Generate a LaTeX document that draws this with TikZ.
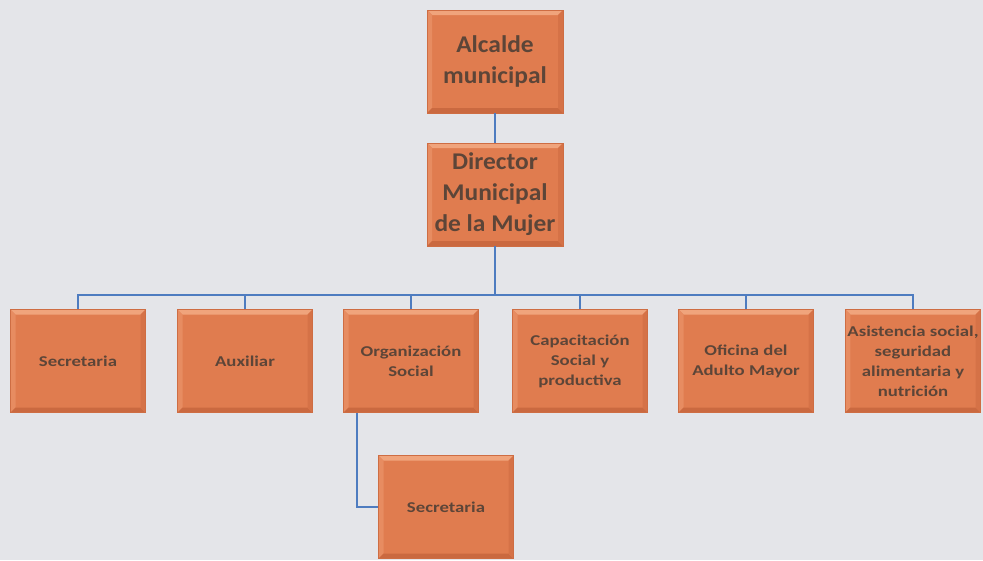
\documentclass[tikz,border=0pt]{standalone}
\usepackage{fontspec}
\setmainfont{Carlito}
\newfontfamily\topfont[FakeStretch=1.06]{Carlito}
\newfontfamily\childfont[FakeStretch=1.25]{Carlito}
\definecolor{bgc}{HTML}{E4E5E9}
\definecolor{orng}{HTML}{E07C4F}
\definecolor{orlt}{HTML}{F0A47C}
\definecolor{ordk}{HTML}{CA6940}
\definecolor{txtc}{HTML}{5C4538}
\definecolor{linec}{HTML}{4E7CC0}
\tikzset{
  orgbox/.style={fill=orng, draw=ordk!80!orng, line width=0.5pt, inner sep=2pt, align=center,
    text=txtc,
    path picture={
      \fill[orlt] (path picture bounding box.north west) -- (path picture bounding box.north east)
        -- ([shift={(-5,5)}]path picture bounding box.north east) -- ([shift={(5,5)}]path picture bounding box.north west) -- cycle;
      \fill[orlt!40!orng] (path picture bounding box.north west) -- (path picture bounding box.south west)
        -- ([shift={(5,-5)}]path picture bounding box.south west) -- ([shift={(5,5)}]path picture bounding box.north west) -- cycle;
      \fill[ordk] (path picture bounding box.south west) -- (path picture bounding box.south east)
        -- ([shift={(-5,-5)}]path picture bounding box.south east) -- ([shift={(5,-5)}]path picture bounding box.south west) -- cycle;
      \fill[ordk!50!orng] (path picture bounding box.north east) -- (path picture bounding box.south east)
        -- ([shift={(-5,-5)}]path picture bounding box.south east) -- ([shift={(-5,5)}]path picture bounding box.north east) -- cycle;
    }},
  topbox/.style={orgbox, minimum width=136pt, minimum height=103pt, font=\topfont\bfseries\fontsize{24}{31}\selectfont},
  childbox/.style={orgbox, minimum width=135pt, minimum height=103pt, font=\childfont\bfseries\fontsize{15}{20}\selectfont},
  conn/.style={draw=linec, line width=1.6pt}
}
\begin{document}
\begin{tikzpicture}[x=1pt,y=-1pt]
\fill[bgc] (0,0) rectangle (983,560);
\useasboundingbox (0,0) rectangle (983,560);
\node[topbox] (alc) at (495,61.5) {Alcalde\\municipal};
\node[topbox] (dir) at (495,194.5) {Director\\Municipal\\de la Mujer};
\node[childbox] (c1) at (78,361) {Secretaria};
\node[childbox] (c2) at (245,361) {Auxiliar};
\node[childbox] (c3) at (411,361) {Organización\\Social};
\node[childbox] (c4) at (580,361) {Capacitación\\Social y\\productiva};
\node[childbox] (c5) at (746,361) {Oficina del\\Adulto Mayor};
\node[childbox] (c6) at (913,361) {Asistencia social,\\seguridad\\alimentaria y\\nutrición};
\node[childbox] (sub) at (446,507) {Secretaria};
\coordinate (bus) at (495,295);
\draw[conn] (alc.south) -- (dir.north);
\draw[conn] (dir.south) -- (bus);
\foreach \c in {c1,c2,c3,c4,c5,c6} { \draw[conn] (\c.north) |- (bus); }
\draw[conn] ([xshift=-54pt]c3.south) |- (sub.west);
\end{tikzpicture}
\end{document}
